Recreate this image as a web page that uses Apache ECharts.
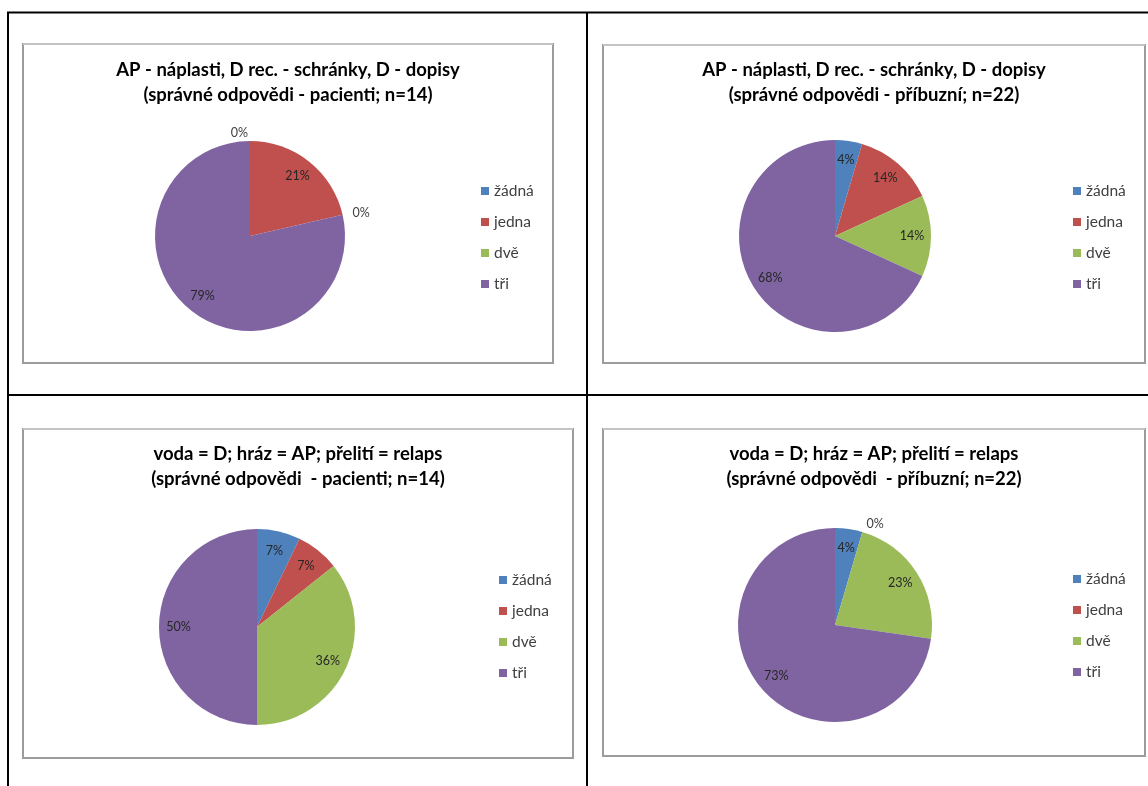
<!DOCTYPE html>
<html><head><meta charset="utf-8">
<script src="https://cdn.jsdelivr.net/npm/echarts@6/dist/echarts.min.js"></script>
<style>html,body{margin:0;padding:0;background:#fff}#c{width:1148px;height:786px}</style>
</head><body><div id="c"></div>
<script>
// ---- data ----
const categories = ['žádná', 'jedna', 'dvě', 'tři'];
const titles = [
  'AP - náplasti, D rec. - schránky, D - dopisy\n(správné odpovědi - pacienti; n=14)',
  'AP - náplasti, D rec. - schránky, D - dopisy\n(správné odpovědi - příbuzní; n=22)',
  'voda = D; hráz = AP; přelití = relaps\n(správné odpovědi  - pacienti; n=14)',
  'voda = D; hráz = AP; přelití = relaps\n(správné odpovědi  - příbuzní; n=22)'
];
const countsPatientsPlasters = [0, 3, 0, 11];
const countsRelativesPlasters = [1, 3, 3, 15];
const countsPatientsDam = [1, 1, 5, 7];
const countsRelativesDam = [1, 0, 5, 16];
const seriesValues = [countsPatientsPlasters, countsRelativesPlasters, countsPatientsDam, countsRelativesDam];

// ---- layout & style ----
const colors = ['#4F81BD', '#C0504D', '#9BBB59', '#8064A2'];
const FONT = 'Lato, "Open Sans", sans-serif';
const panels = [
  { frame: [23, 44, 530, 319], titleX: 288, titleTop: 53, center: [250, 236], r: 95, legendLeft: 481, legendTop: 183 },
  { frame: [603, 45, 542, 318], titleX: 874, titleTop: 53, center: [835, 236], r: 96, legendLeft: 1073, legendTop: 183 },
  { frame: [23, 429, 550, 329], titleX: 298, titleTop: 437, center: [257, 627], r: 98, legendLeft: 499, legendTop: 572 },
  { frame: [603, 429, 542, 327], titleX: 874, titleTop: 437, center: [835, 625], r: 97, legendLeft: 1073, legendTop: 571 }
];

const graphics = [];
panels.forEach(p => {
  const [x, y, w, h] = p.frame;
  graphics.push({ type: 'rect', z: 0, shape: { x, y, width: w, height: h },
    style: { fill: '#fff', stroke: '#9c9c9c', lineWidth: 2 } });
  graphics.push({ type: 'line', z: 0, shape: { x1: x, y1: y, x2: x + w, y2: y },
    style: { stroke: '#c4c4c4', lineWidth: 2 } });
});
// table grid lines
[[7, 12.5, 1148, 12.5], [8, 12, 8, 786], [587, 12, 587, 786], [7, 395, 1148, 395]].forEach(l => {
  graphics.push({ type: 'line', z: 1, shape: { x1: l[0], y1: l[1], x2: l[2], y2: l[3] },
    style: { stroke: '#000', lineWidth: 2 } });
});

const title = panels.map((p, i) => ({
  text: titles[i], left: p.titleX - 5, top: p.titleTop, textAlign: 'center',
  textStyle: { fontFamily: FONT, fontWeight: 'bold', fontSize: 18.5, lineHeight: 25, color: '#000' }
}));

const legend = panels.map(p => ({
  orient: 'vertical', left: p.legendLeft, top: p.legendTop, padding: 0,
  icon: 'rect', itemWidth: 8, itemHeight: 8, itemGap: 15, selectedMode: false,
  data: categories.map((c, k) => ({ name: c, itemStyle: { color: colors[k] } })),
  textStyle: { fontFamily: FONT, fontSize: 15.5, lineHeight: 16, color: '#404040' }
}));

const series = [];
panels.forEach((p, i) => {
  const vals = seriesValues[i];
  series.push({
    type: 'pie', center: p.center, radius: p.r, startAngle: 90, clockwise: true,
    percentPrecision: 0, avoidLabelOverlap: false, silent: true, legendHoverLink: false,
    label: { show: false }, labelLine: { show: false }, emphasis: { disabled: true },
    itemStyle: { borderWidth: 0 },
    data: categories.map((c, k) => ({ name: c, value: vals[k], itemStyle: { color: colors[k] } }))
  });
  series.push({
    type: 'pie', center: p.center, radius: [p.r * 0.54, p.r], startAngle: 90, clockwise: true,
    percentPrecision: 0, avoidLabelOverlap: false, silent: true, legendHoverLink: false,
    emphasis: { disabled: true }, z: 3,
    itemStyle: { color: 'rgba(0,0,0,0)', borderWidth: 0 },
    label: { show: true, position: 'inside', formatter: '{d}%', fontFamily: FONT, fontSize: 12.5, color: '#262626' },
    labelLine: { show: false },
    data: categories.map((c, k) => vals[k] === 0
      ? { name: c, value: vals[k], label: { position: 'outside', distanceToLabelLine: 2, color: '#404040' },
          labelLine: { show: false, length: 8, length2: 0 } }
      : { name: c, value: vals[k] })
  });
});

const chart = echarts.init(document.getElementById('c'), null, { renderer: 'canvas' });
chart.setOption({
  animation: false, backgroundColor: '#fff',
  graphic: { elements: graphics },
  title, legend, series
});
</script>
</body></html>
